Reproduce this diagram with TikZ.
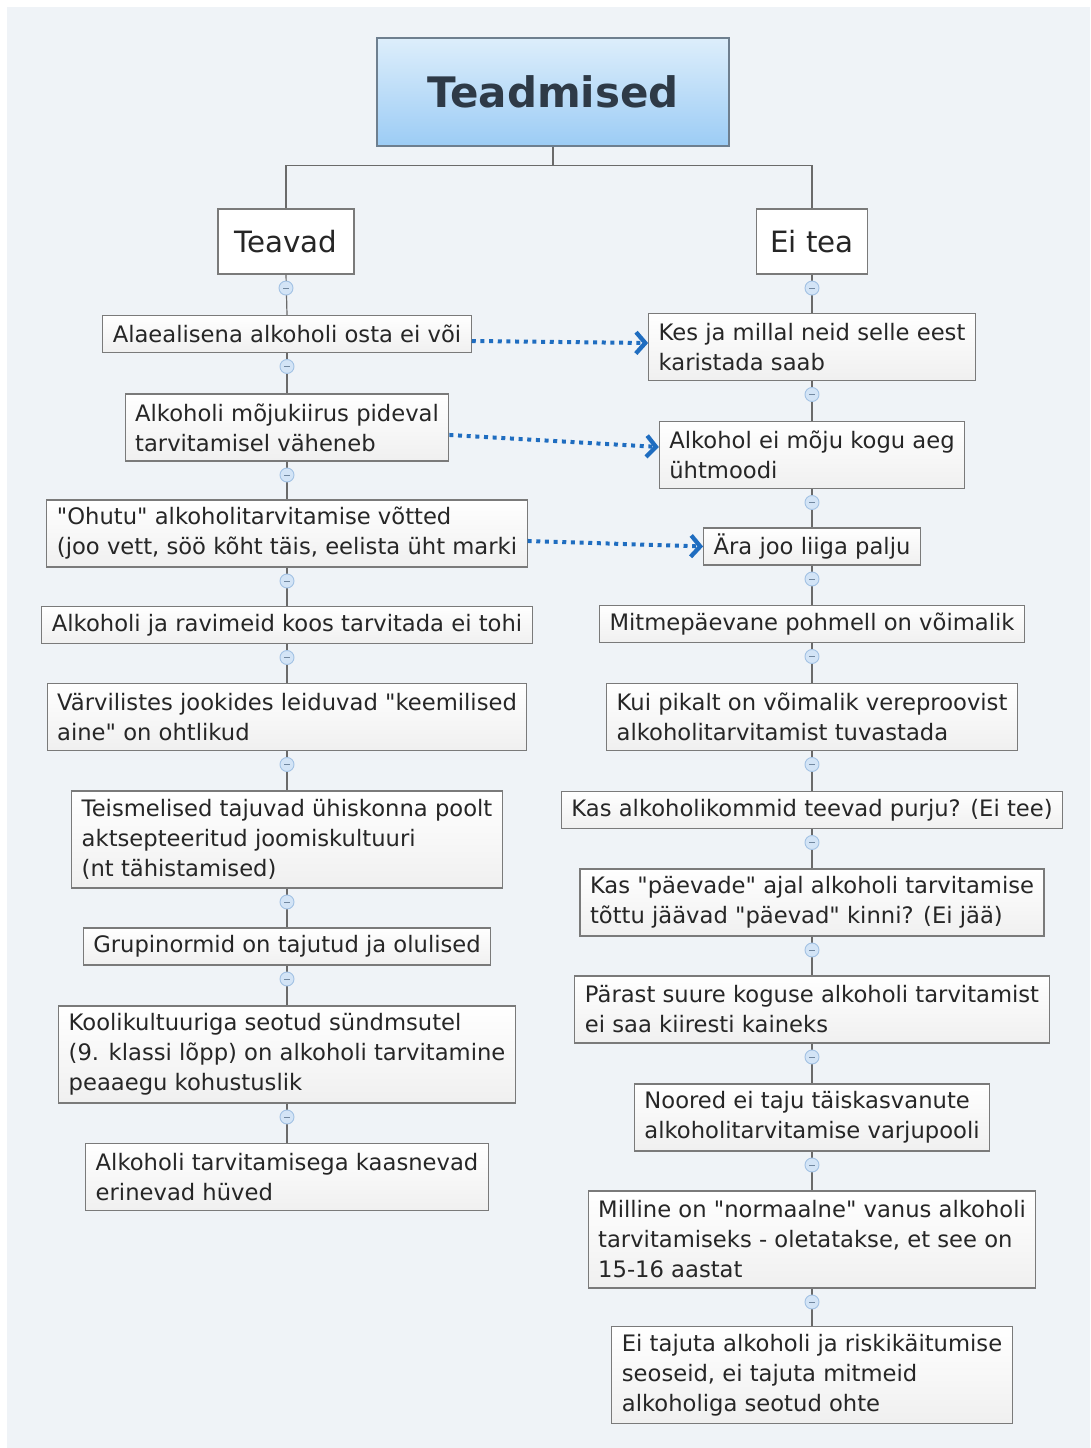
\documentclass[tikz,border=0pt]{standalone}
\usepackage{fontspec}
\setmainfont{DejaVu Sans}[Ligatures=TeXOff]
\usepackage{xcolor}
\usepackage{tikz}
\usetikzlibrary{positioning, arrows.meta}
\definecolor{paper}{HTML}{EFF3F7}
\definecolor{rootfilltop}{HTML}{DDEEFB}
\definecolor{rootfillbot}{HTML}{9CCCF5}
\definecolor{rootline}{HTML}{6E7F8F}
\definecolor{roottext}{HTML}{2E3A47}
\definecolor{boxline}{HTML}{7A7A7A}
\definecolor{linkgray}{HTML}{6A6A6A}
\definecolor{relblue}{HTML}{1F6DC0}
\definecolor{togglefill}{HTML}{D3E4F6}
\definecolor{toggleline}{HTML}{A3C2E4}
\tikzstyle{root} = [rectangle, draw=rootline, line width=0.9pt, top color=rootfilltop, bottom color=rootfillbot, minimum width=264pt, minimum height=81pt, text=roottext, font=\fontsize{31.5}{36}\selectfont\bfseries]
\tikzstyle{branch} = [rectangle, draw=boxline, line width=0.9pt, fill=white, minimum height=48.75pt, inner xsep=9pt, text=black!85, font=\fontsize{22}{26}\selectfont]
\tikzstyle{item} = [rectangle, draw=boxline, line width=0.8pt, top color=white, bottom color=black!6, inner xsep=7.5pt, inner ysep=3pt, align=left, text=black!85, font=\fontsize{17}{22.5}\selectfont]
\tikzstyle{oneline} = [minimum height=27.75pt]
\tikzstyle{twoline} = [minimum height=50.25pt]
\tikzstyle{threeline} = [minimum height=72.75pt]
\tikzstyle{link} = [draw=linkgray, line width=0.9pt]
\tikzstyle{toggle} = [circle, draw=toggleline, fill=togglefill, line width=0.7pt, minimum size=10.5pt, inner sep=0pt]
\tikzstyle{relation} = [draw=relblue, line width=3pt, dash pattern=on 3pt off 3.5pt, -{Straight Barb[length=7pt,width=16pt,line width=3.2pt]}]

\begin{document}
\begin{tikzpicture}[x=0.75pt, y=-0.75pt]
		\fill[white] (0,0) rectangle (1090,1448);
		\fill[paper] (7,7) rectangle (1090,1448);
		\node (root) [root] at (553,92) {Teadmised};
		\node (tv) [branch, minimum width=102pt] at (286,241.5) {Teavad};
		\node (et) [branch, minimum width=83.25pt] at (812,241.5) {Ei tea};
		% Teavad
		\node (l1) [item, oneline] at (287,334) {Alaealisena alkoholi osta ei või};
		\node (l2) [item, twoline] at (287,427.5) {Alkoholi mõjukiirus pideval\\tarvitamisel väheneb};
		\node (l3) [item, twoline] at (287,533.5) {"Ohutu" alkoholitarvitamise võtted\\(joo vett, söö kõht täis, eelista üht marki};
		\node (l4) [item, oneline] at (287,625) {Alkoholi ja ravimeid koos tarvitada ei tohi};
		\node (l5) [item, twoline] at (287,717) {Värvilistes jookides leiduvad "keemilised\\aine" on ohtlikud};
		\node (l6) [item, threeline] at (287,839.5) {Teismelised tajuvad ühiskonna poolt\\aktsepteeritud joomiskultuuri\\(nt tähistamised)};
		\node (l7) [item, oneline] at (287,946.5) {Grupinormid on tajutud ja olulised};
		\node (l8) [item, threeline] at (287,1054.5) {Koolikultuuriga seotud sündmsutel\\(9. klassi lõpp) on alkoholi tarvitamine\\peaaegu kohustuslik};
		\node (l9) [item, twoline] at (287,1177) {Alkoholi tarvitamisega kaasnevad\\erinevad hüved};
		% Ei tea
		\node (r1) [item, twoline] at (812,347) {Kes ja millal neid selle eest\\karistada saab};
		\node (r2) [item, twoline] at (812,455) {Alkohol ei mõju kogu aeg\\ühtmoodi};
		\node (r3) [item, oneline] at (812,546.5) {Ära joo liiga palju};
		\node (r4) [item, oneline] at (812,624) {Mitmepäevane pohmell on võimalik};
		\node (r5) [item, twoline] at (812,717) {Kui pikalt on võimalik vereproovist\\alkoholitarvitamist tuvastada};
		\node (r6) [item, oneline] at (812,810) {Kas alkoholikommid teevad purju? (Ei tee)};
		\node (r7) [item, twoline] at (812,902.5) {Kas "päevade" ajal alkoholi tarvitamise\\tõttu jäävad "päevad" kinni? (Ei jää)};
		\node (r8) [item, twoline] at (812,1009.5) {Pärast suure koguse alkoholi tarvitamist\\ei saa kiiresti kaineks};
		\node (r9) [item, twoline] at (812,1117.5) {Noored ei taju täiskasvanute\\alkoholitarvitamise varjupooli};
		\node (r10) [item, threeline] at (812,1239.5) {Milline on "normaalne" vanus alkoholi\\tarvitamiseks - oletatakse, et see on\\15-16 aastat};
		\node (r11) [item, threeline] at (812,1375) {Ei tajuta alkoholi ja riskikäitumise\\seoseid, ei tajuta mitmeid\\alkoholiga seotud ohte};
		% tree lines
		\draw[link] (root.south) -- ++(0,19) -| (tv.north);
		\draw[link] (root.south) -- ++(0,19) -| (et.north);
		\foreach \a/\b in {tv/l1, l1/l2, l2/l3, l3/l4, l4/l5, l5/l6, l6/l7, l7/l8, l8/l9, et/r1, r1/r2, r2/r3, r3/r4, r4/r5, r5/r6, r6/r7, r7/r8, r8/r9, r9/r10, r10/r11}
			\draw[link] (\a.south) -- (\b.north);
		\foreach \n in {tv, l1, l2, l3, l4, l5, l6, l7, l8, et, r1, r2, r3, r4, r5, r6, r7, r8, r9, r10}
			\node[toggle, below=4.5pt of \n] {\color{toggleline!70!black}\rule{4.5pt}{0.7pt}};
		% relations
		\draw[relation] ([yshift=-5.25pt]l1.east) -- ([yshift=3pt]r1.west);
		\draw[relation] ([yshift=-5.6pt]l2.east) -- ([yshift=6pt]r2.west);
		\draw[relation] ([yshift=-5.6pt]l3.east) -- (r3.west);
	\end{tikzpicture}
\end{document}
